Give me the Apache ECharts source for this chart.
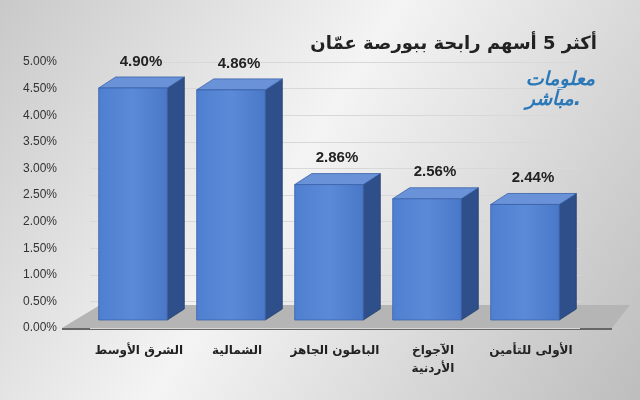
<!DOCTYPE html>
<html><head><meta charset="utf-8">
<script src="https://cdn.jsdelivr.net/npm/echarts@6/dist/echarts.min.js"></script>
<style>html,body{margin:0;padding:0}#c{width:640px;height:400px}</style>
</head><body><div id="c"></div>
<script>
var categories = ['الشرق الأوسط', 'الشمالية', 'الباطون الجاهز', 'الآجواخ\nالأردنية', 'الأولى للتأمين'];
var values = [4.90, 4.86, 2.86, 2.56, 2.44];
var chart = echarts.init(document.getElementById('c'));
var DX = 17, DY = -11;
function renderBar(params, api) {
    var top = api.coord([api.value(0), api.value(1)]);
    var base = api.coord([api.value(0), 0]);
    var w = api.size([1, 0])[0] * 0.7;
    var x0 = top[0] - w / 2 - 6, x1 = x0 + w, yB = base[1] - 8;
    var yT = yB - (base[1] - top[1]) * 0.89;
    return {
        type: 'group',
        children: [
            {type: 'polygon', shape: {points: [[x1, yT], [x1 + DX, yT + DY], [x1 + DX, yB + DY], [x1, yB]]},
             style: {fill: '#2f4f8a', stroke: '#24406f', lineWidth: 0.8}},
            {type: 'polygon', shape: {points: [[x0, yT], [x0 + DX, yT + DY], [x1 + DX, yT + DY], [x1, yT]]},
             style: {fill: '#6a92d8', stroke: '#3a62a8', lineWidth: 0.8}},
            {type: 'rect', shape: {x: x0, y: yT, width: w, height: yB - yT},
             style: {fill: new echarts.graphic.LinearGradient(0, 0, 1, 0, [{offset: 0, color: '#4f7fd0'}, {offset: 0.5, color: '#5b8ad8'}, {offset: 1, color: '#4a78c8'}]), stroke: '#3a62a8', lineWidth: 0.8}},
            {type: 'text', style: {text: api.value(1).toFixed(2) + '%', x: top[0] + 2, y: yT + DY - 8,
             align: 'center', verticalAlign: 'bottom', font: 'bold 15px Arial, sans-serif', fill: '#222'}}
        ]
    };
}
chart.setOption({
    backgroundColor: new echarts.graphic.LinearGradient(0, 0, 1, 1, [{offset: 0, color: '#c9c9c9'}, {offset: 0.45, color: '#f4f4f4'}, {offset: 1, color: '#bdbdbd'}]),
    title: {text: 'أكثر 5 أسهم رابحة ببورصة عمّان', right: 38, top: 30,
        textStyle: {fontFamily: 'DejaVu Sans', fontSize: 18, fontWeight: 'bold', color: '#222'}},
    graphic: [
        {type: 'text', right: 45, top: 70, style: {text: 'معلومات\nمباشر.', font: 'italic bold 19px "DejaVu Sans"', fill: '#2a78b8', align: 'center', lineHeight: 20}},
        {type: 'polygon', z: 0, shape: {points: [[62, 328], [612, 328], [630, 305], [100, 305]]}, style: {fill: '#b5b5b5'}},
        {type: 'line', z: 0, shape: {x1: 62, y1: 329, x2: 612, y2: 329}, style: {stroke: '#666', lineWidth: 2}}
    ],
    grid: {left: 90, right: 60, top: 62, bottom: 72},
    xAxis: {type: 'category', data: categories,
        axisLine: {show: false}, axisTick: {show: false},
        axisLabel: {interval: 0, margin: 14, fontFamily: 'DejaVu Sans', fontWeight: 'bold', fontSize: 12, color: '#222', lineHeight: 18}},
    yAxis: {type: 'value', min: 0, max: 5, interval: 0.5,
        axisLabel: {formatter: function (v) { return v.toFixed(2) + '%'; }, fontFamily: 'Arial', fontSize: 12, color: '#333', margin: 33},
        axisLine: {show: false}, axisTick: {show: false},
        splitLine: {lineStyle: {color: '#d8d8d8'}}},
    series: [{type: 'custom', renderItem: renderBar, data: values.map(function (v, i) { return [i, v]; }), z: 5}]
});
</script></body></html>
